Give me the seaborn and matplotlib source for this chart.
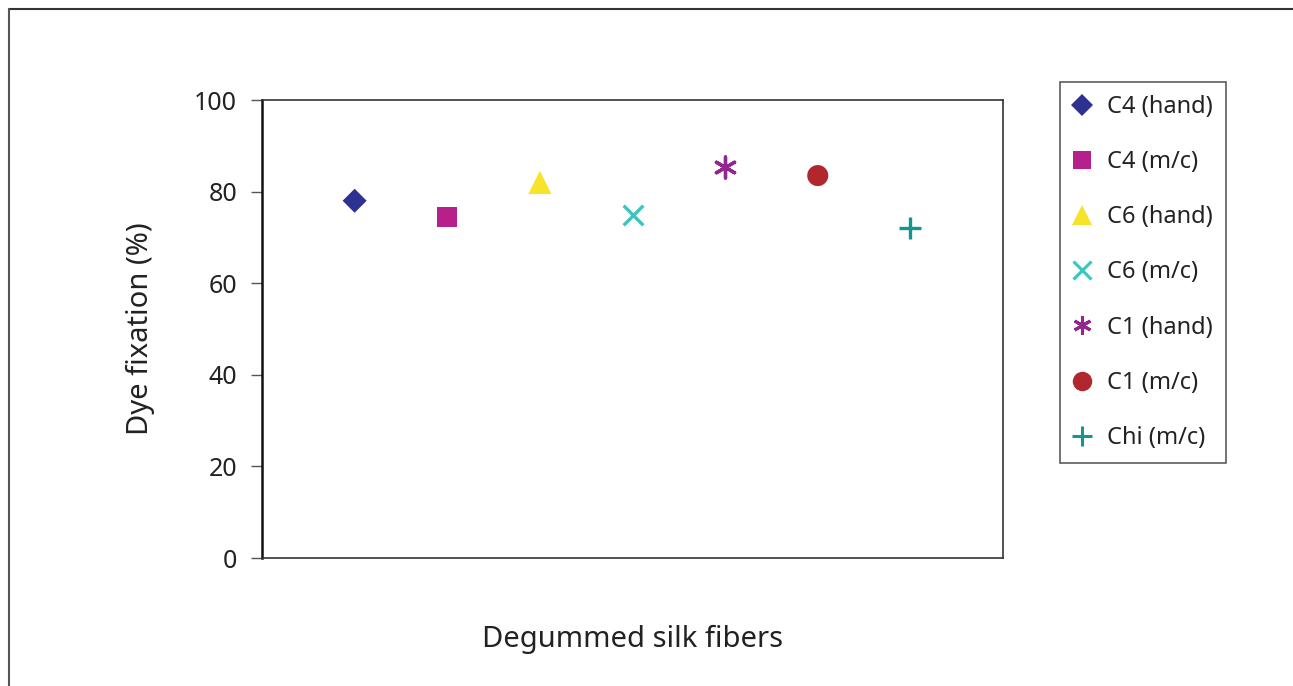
import pandas as pd
import seaborn as sns
import matplotlib.pyplot as plt
from matplotlib.lines import Line2D

# 데이터
samples = ["C4 (hand)", "C4 (m/c)", "C6 (hand)", "C6 (m/c)", "C1 (hand)", "C1 (m/c)", "Chi (m/c)"]
positions = [1, 2, 3, 4, 5, 6, 7]
fixation = [78, 74.5, 82, 75, 85.3, 83.5, 72]
colors = ["#2E3192", "#B5208A", "#F7E32A", "#3CC4BE", "#92278F", "#B0282E", "#139690"]
markers = ["D", "s", "^", "x", (6, 2, 0), "o", "+"]
sizes = [150, 200, 280, 200, 230, 230, 230]
leg_sizes = [11, 13, 15, 13, 13, 14, 14]


def set_config():
    sns.set_theme(style="white")
    plt.rcParams["font.family"] = ["Noto Sans", "DejaVu Sans"]
    plt.rcParams["text.color"] = "#222222"
    plt.rcParams["axes.labelcolor"] = "#222222"
    plt.rcParams["xtick.color"] = "#222222"
    plt.rcParams["ytick.color"] = "#222222"


def draw():
    df = pd.DataFrame({"sample": samples, "x": positions, "y": fixation})

    fig = plt.figure(figsize=(12.93, 6.86), dpi=100)
    ax = fig.add_axes([262 / 1293, 1 - 558 / 686, (1003 - 262) / 1293, (558 - 100) / 686])

    for i, row in df.iterrows():
        filled = markers[i] not in ("x", "+", (6, 2, 0))
        sns.scatterplot(
            x=[row.x], y=[row.y], ax=ax, marker=markers[i], s=sizes[i],
            color=colors[i], linewidth=0 if filled else 2.4,
            edgecolor=colors[i] if not filled else "none", legend=False,
        )

    ax.set_xlim(0, 8)
    ax.set_ylim(0, 100)
    ax.set_yticks([0, 20, 40, 60, 80, 100])
    ax.set_xticks([])
    ax.tick_params(axis="y", direction="out", length=8, width=1, color="#555555",
                   labelsize=18, pad=10, left=True)
    for side, sp in ax.spines.items():
        sp.set_color("#333333")
        sp.set_linewidth(1.2)
    ax.spines["left"].set_color("#111111")
    ax.spines["left"].set_linewidth(1.8)

    ax.set_ylabel("Dye fixation (%)", fontsize=21, labelpad=28)
    ax.set_xlabel("Degummed silk fibers", fontsize=21, labelpad=48)

    # 범례
    handles = []
    for i in range(len(samples)):
        filled = markers[i] not in ("x", "+", (6, 2, 0))
        handles.append(Line2D([], [], linestyle="none", marker=markers[i],
                              markersize=leg_sizes[i],
                              color=colors[i], markeredgewidth=0 if filled else 2.2,
                              label=samples[i]))
    leg = fig.legend(handles=handles, loc="upper left",
                     bbox_to_anchor=(1060 / 1293, 1 - 82 / 686),
                     frameon=True, fancybox=False, edgecolor="#333333",
                     fontsize=17, labelspacing=1.32, handletextpad=0.65,
                     handlelength=0.8, borderpad=0.55, borderaxespad=0)
    leg.get_frame().set_linewidth(1.2)

    # 그림 테두리 (위, 왼쪽)
    fig.add_artist(Line2D([9 / 1293, 1], [1 - 9 / 686, 1 - 9 / 686], color="#333333", lw=1.5))
    fig.add_artist(Line2D([9 / 1293, 9 / 1293], [0, 1 - 9 / 686], color="#555555", lw=1.5))

    fig.savefig("out.png", dpi=100, facecolor="white")


def main():
    set_config()
    draw()


if __name__ == "__main__":
    main()
